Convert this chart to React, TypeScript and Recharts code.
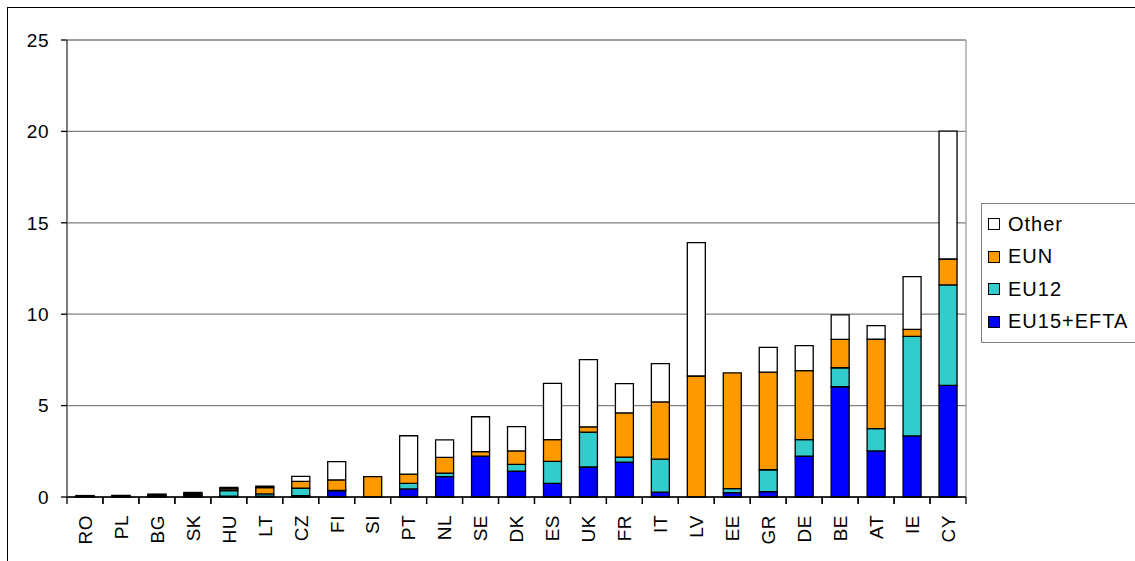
import { BarChart, Bar, XAxis, YAxis, CartesianGrid, Legend } from 'recharts'

const countries = ['RO', 'PL', 'BG', 'SK', 'HU', 'LT', 'CZ', 'FI', 'SI', 'PT', 'NL', 'SE', 'DK', 'ES', 'UK', 'FR', 'IT', 'LV', 'EE', 'GR', 'DE', 'BE', 'AT', 'IE', 'CY']
const eu15Efta = [0.02, 0.02, 0.05, 0.08, 0.05, 0.05, 0.08, 0.34, 0, 0.44, 1.11, 2.24, 1.42, 0.75, 1.64, 1.91, 0.27, 0, 0.24, 0.29, 2.23, 6.03, 2.52, 3.34, 6.11]
const eu12 = [0.02, 0.03, 0.04, 0.06, 0.3, 0.12, 0.4, 0.02, 0, 0.31, 0.2, 0, 0.36, 1.2, 1.91, 0.27, 1.8, 0, 0.22, 1.2, 0.91, 1.04, 1.22, 5.45, 5.49]
const eun = [0.02, 0.02, 0.04, 0.06, 0.1, 0.35, 0.38, 0.58, 1.11, 0.5, 0.86, 0.24, 0.74, 1.19, 0.29, 2.42, 3.13, 6.62, 6.33, 5.34, 3.77, 1.55, 4.89, 0.38, 1.42]
const other = [0.02, 0.02, 0.03, 0.05, 0.08, 0.08, 0.27, 1.0, 0, 2.1, 0.96, 1.91, 1.33, 3.08, 3.68, 1.6, 2.1, 7.3, 0, 1.35, 1.37, 1.34, 0.74, 2.89, 6.99]
const yTicks = [0, 5, 10, 15, 20, 25]
const legendOrder = ['Other', 'EUN', 'EU12', 'EU15+EFTA']

const data = countries.map((c, i) => ({
    name: c,
    eu15: eu15Efta[i],
    eu12: eu12[i],
    eun: eun[i],
    other: other[i],
}))

const font = 'Arial, "Liberation Sans", sans-serif'

const CountryTick = (props: any) => {
    const { x, y, payload } = props
    const half = payload?.offset || 18
    return <g>
        <line x1={x - half} x2={x - half} y1={y} y2={y + 7} stroke='#000' strokeWidth={1.3} />
        <line x1={x + half} x2={x + half} y1={y} y2={y + 7} stroke='#000' strokeWidth={1.3} />
        <text x={x} y={y + 18} transform={`rotate(-90 ${x} ${y + 18})`} textAnchor='end' dy='0.36em'
            fontSize={19} fontFamily={font} fill='#000' letterSpacing={0.5}>{payload.value}</text>
    </g>
}

const LegendBox = ({ payload }: any) => {
    const items = legendOrder.map(n => (payload || []).find((p: any) => p.value === n)).filter(Boolean)
    return <div style={{ border: '1.5px solid #808080', width: 200, padding: '4px 0 4px 6px', fontFamily: font, fontSize: 20, letterSpacing: 1, background: 'white', textAlign: 'left' }}>
        {items.map((p: any) => <div key={p.value} style={{ display: 'flex', alignItems: 'center', height: 32.5 }}>
            <span style={{ width: 10, height: 10, border: '1.3px solid #000', background: p.color, marginRight: 8, display: 'inline-block' }} />
            <span>{p.value}</span>
        </div>)}
    </div>
}

export default function App() {
    return <div style={{ position: 'fixed', left: 0, top: 0, width: 1135, height: 561, overflow: 'hidden', background: 'white' }}>
        <div style={{ position: 'absolute', left: 7, top: 7, width: 1200, height: 600, border: '1.5px solid #000' }} />
        <div style={{ position: 'absolute', left: 0, top: 0 }}>
            <BarChart width={1135} height={561} data={data} barSize={18}
                margin={{ top: 40, right: 169, left: 0, bottom: 0 }}>
                <CartesianGrid vertical={false} stroke='#808080' strokeWidth={1.3}
                    horizontalValues={yTicks} />
                <CartesianGrid horizontal={false} stroke='#a0a0a0' strokeWidth={1.3}
                    verticalCoordinatesGenerator={({ offset }: any) => [offset.left + offset.width]} />
                <XAxis dataKey='name' interval={0} height={64} tickLine={false} tickSize={0} tickMargin={0}
                    axisLine={{ stroke: '#000', strokeWidth: 1.3 }} tick={<CountryTick />} />
                <YAxis type='number' domain={[0, 25]} ticks={yTicks} width={67} tickSize={6} tickMargin={12}
                    axisLine={{ stroke: '#505050', strokeWidth: 1.5 }} tickLine={{ stroke: '#000', strokeWidth: 1.3 }}
                    tick={{ fontSize: 19, fontFamily: font, fill: '#000', letterSpacing: 0.5 }} />
                <Legend layout='horizontal' align='center' verticalAlign='middle' content={<LegendBox />}
                    wrapperStyle={{ left: 981, top: 203, width: 200 }} />
                <Bar dataKey='eu15' name='EU15+EFTA' stackId='a' fill='#0000FF' stroke='#000' strokeWidth={1.3} isAnimationActive={false} />
                <Bar dataKey='eu12' name='EU12' stackId='a' fill='#33CCCC' stroke='#000' strokeWidth={1.3} isAnimationActive={false} />
                <Bar dataKey='eun' name='EUN' stackId='a' fill='#FF9900' stroke='#000' strokeWidth={1.3} isAnimationActive={false} />
                <Bar dataKey='other' name='Other' stackId='a' fill='#FFFFFF' stroke='#000' strokeWidth={1.3} isAnimationActive={false} />
            </BarChart>
        </div>
    </div>
}
